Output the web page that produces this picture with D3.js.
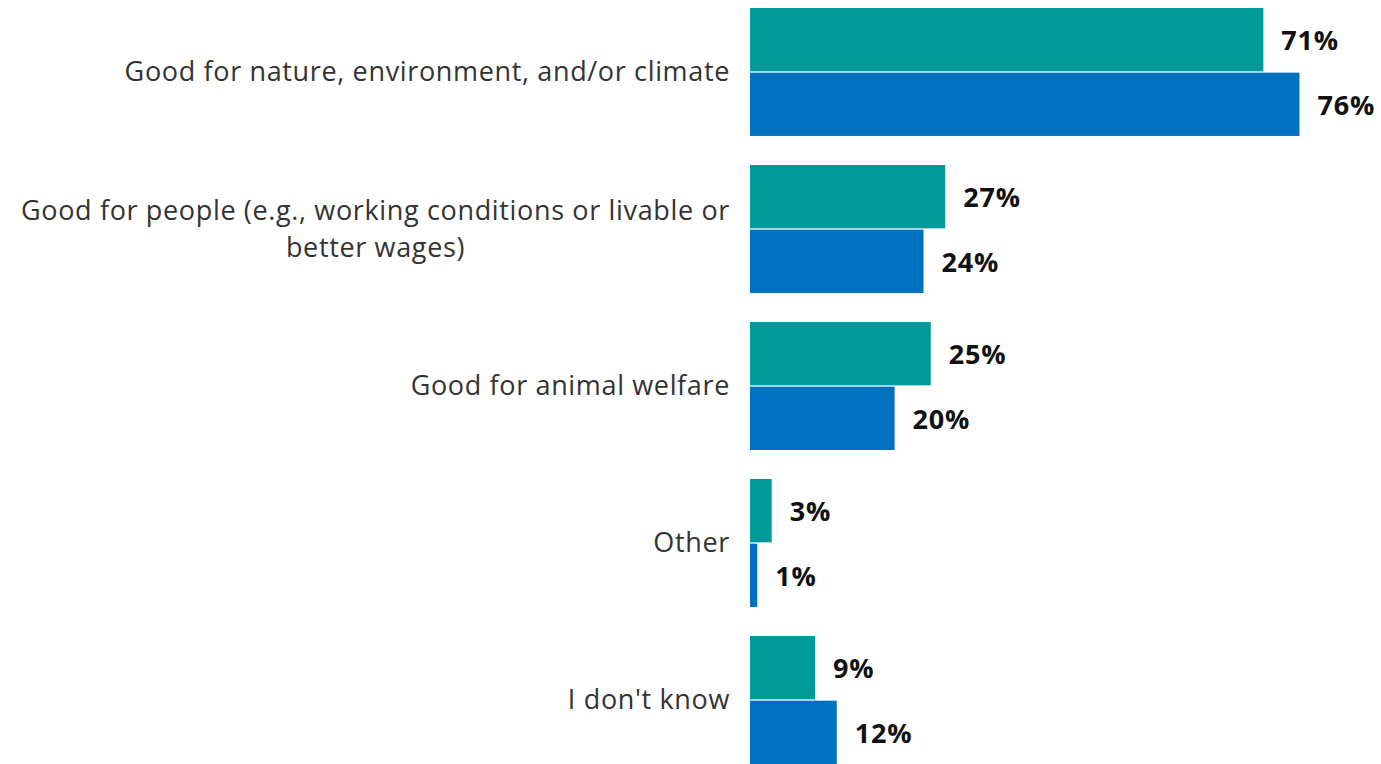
<!DOCTYPE html>
<html>
<head>
<meta charset="utf-8">
<script src="https://cdn.jsdelivr.net/npm/d3@7"></script>
<style>
  html, body { margin: 0; padding: 0; background: #fff; }
  svg { display: block; }
</style>
</head>
<body>
<svg id="chart" width="1381" height="764"></svg>
<script>
// Reasons given, shares of respondents (%), two survey waves
const categories = [
  ["Good for nature, environment, and/or climate"],
  ["Good for people (e.g., working conditions or livable or", "better wages)"],
  ["Good for animal welfare"],
  ["Other"],
  ["I don't know"]
];
const seriesA = [71, 27, 25, 3, 9];
const seriesB = [76, 24, 20, 1, 12];
const seriesColors = ["#009999", "#0070C0"];

const svg = d3.select("#chart");
const x0 = 750;

const x = d3.scaleLinear().domain([0, 100]).range([x0, x0 + 723]);
const y = d3.scaleBand()
  .domain(d3.range(categories.length))
  .range([8, 764])
  .paddingInner(0.185)
  .paddingOuter(0);
const ySub = d3.scaleBand()
  .domain([0, 1])
  .range([0, y.bandwidth()])
  .paddingInner(0.02);

const rows = categories.map((c, i) => ({ i, lines: c, vals: [seriesA[i], seriesB[i]] }));

const g = svg.selectAll("g.row").data(rows).enter().append("g")
  .attr("class", "row")
  .attr("transform", d => `translate(0,${y(d.i)})`);

// bars
g.selectAll("rect").data(d => d.vals.map((v, k) => ({ v, k }))).enter().append("rect")
  .attr("x", x(0))
  .attr("y", d => ySub(d.k))
  .attr("width", d => x(d.v) - x(0))
  .attr("height", ySub.bandwidth())
  .attr("fill", d => seriesColors[d.k]);

// value labels
g.selectAll("text.val").data(d => d.vals.map((v, k) => ({ v, k }))).enter().append("text")
  .attr("class", "val")
  .attr("x", d => x(d.v) + 18)
  .attr("y", d => ySub(d.k) + ySub.bandwidth() / 2 + 1)
  .attr("dy", "0.35em")
  .attr("font-family", "'Open Sans', sans-serif")
  .attr("font-weight", 700)
  .attr("font-size", 27)
  .attr("letter-spacing", 0.8)
  .attr("fill", "#111")
  .text(d => d.v + "%");

// category labels: one text per category, wrapped lines as tspans
// (multi-line labels centred on each other, the block right-aligned)
const lineH = 37;
g.each(function (d) {
  const n = d.lines.length;
  const cy = y.bandwidth() / 2;
  const text = d3.select(this).append("text")
    .attr("class", "cat")
    .attr("font-family", "'Open Sans', sans-serif")
    .attr("font-size", 27)
    .attr("letter-spacing", 0.65)
    .attr("fill", "#333");
  const spans = text.selectAll("tspan").data(d.lines).enter().append("tspan")
    .attr("y", (l, j) => cy + (j - (n - 1) / 2) * lineH)
    .attr("dy", "0.35em")
    .text(l => l);
  if (n === 1) {
    spans.attr("x", 730).attr("text-anchor", "end");
  } else {
    const w = d3.max(spans.nodes(), nd => nd.getComputedTextLength());
    spans.attr("x", 730 - w / 2).attr("text-anchor", "middle");
  }
});
</script>
</body>
</html>
